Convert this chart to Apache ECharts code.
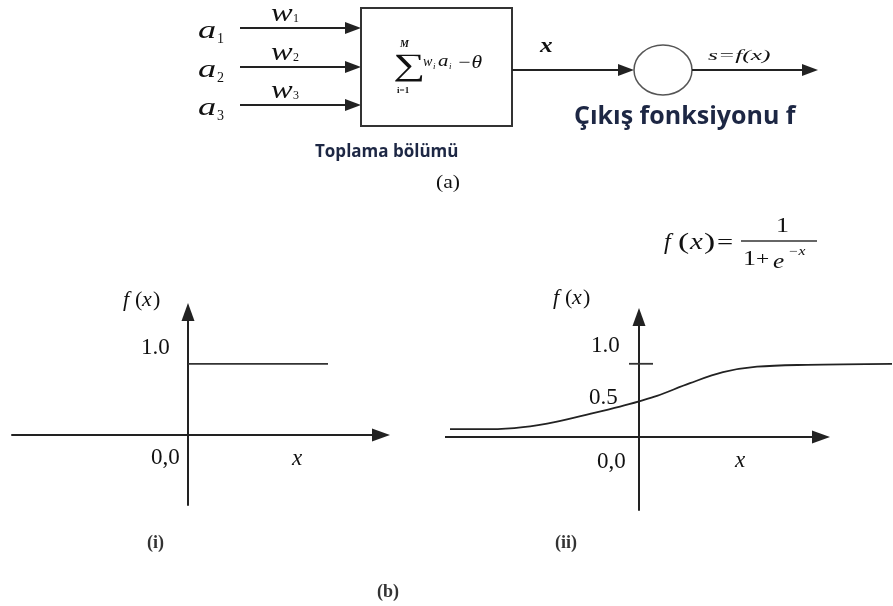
<!DOCTYPE html>
<html><head><meta charset="utf-8">
<script src="https://cdn.jsdelivr.net/npm/echarts@6/dist/echarts.min.js"></script>
<style>html,body{margin:0;padding:0;background:#fff}#c{width:893px;height:606px}</style>
</head><body><div id="c"></div>
<script>
// ---- data ----
const stepX = [0, 7.0];
const stepY = [1.0, 1.0];
const sigX = [-9.45, -7.45, -5.8, -4.1, -2.45, -0.95, 0.05, 0.9, 2.55, 4.2, 5.9, 8.4, 12.65];
const sigY = [0.105, 0.105, 0.133, 0.21, 0.315, 0.415, 0.49, 0.56, 0.735, 0.885, 0.96, 0.986, 1.0];
const tickX = [-0.5, 0.7];
const tickY = [1.0, 1.0];
const axisIIX = [-9.7, 9.1];
const axisIIY = [0, 0];
const inputSubs = ['1', '2', '3'];
const weightSubs = ['1', '2', '3'];
const yLabelsI = ['1.0'];
const yLabelsII = ['1.0', '0.5'];
const originLabel = '0,0';

const zip = (a, b) => a.map((v, i) => [v, b[i]]);
const INK = '#222';
const SERIF = '"Liberation Serif", "DejaVu Serif", serif';
const SANS = '"Open Sans", "Noto Sans", sans-serif';

function axisX(grid, min, max, showLine) {
  return {gridIndex: grid, type: 'value', min: min, max: max,
    axisLine: {show: showLine, onZero: true, symbol: ['none', 'triangle'], symbolSize: [13, 18],
      lineStyle: {color: INK, width: 2}},
    axisTick: {show: false}, axisLabel: {show: false}, splitLine: {show: false}};
}
function axisY(grid, min, max) {
  return {gridIndex: grid, type: 'value', min: min, max: max,
    axisLine: {onZero: true, symbol: ['none', 'triangle'], symbolSize: [13, 18],
      lineStyle: {color: INK, width: 2}},
    axisTick: {show: false}, axisLabel: {show: false}, splitLine: {show: false}};
}

const g = [];
function txt(x, y, s, size, opt) {
  opt = Object.assign({}, opt || {});
  const sx = opt.sx || 1; delete opt.sx;
  g.push({type: 'text', x: x, y: y, scaleX: sx, style: Object.assign({text: s, fontSize: size,
    fontFamily: SERIF, fill: '#111', textAlign: 'left', textVerticalAlign: 'middle'}, opt)});
}
function fx(x, y, size, gaps) {
  txt(x, y, 'f', size, {fontStyle: 'italic'});
  txt(x + gaps[0], y, '(', size);
  txt(x + gaps[1], y, 'x', size, {fontStyle: 'italic'});
  txt(x + gaps[2], y, ')', size);
}
function seg(x1, y1, x2, y2, w, c) {
  g.push({type: 'line', shape: {x1: x1, y1: y1, x2: x2, y2: y2},
    style: {stroke: c || INK, lineWidth: w || 2}});
}
function arrowR(x1, x2, y) {
  seg(x1, y, x2 - 6, y, 2);
  g.push({type: 'polygon', shape: {points: [[x2 - 16, y - 6], [x2, y], [x2 - 16, y + 6]]},
    style: {fill: INK}});
}

// ---- top diagram (a) ----
const rowsY = [28, 67, 105];
rowsY.forEach((y, i) => {
  arrowR(240, 361, y);
  txt(198, y + 3, 'a', 25, {fontStyle: 'italic', sx: 1.45});
  txt(217, y + 11, inputSubs[i], 14);
  txt(271, y - 14, 'w', 25, {fontStyle: 'italic', sx: 1.3});
  txt(293, y - 9, weightSubs[i], 12);
});
g.push({type: 'rect', shape: {x: 361, y: 8, width: 151, height: 118},
  style: {fill: '#fff', stroke: '#333', lineWidth: 2}});
txt(393, 67, '\u2211', 31, {sx: 1.45});
txt(400, 44, 'M', 10, {fontStyle: 'italic', fontWeight: 'bold'});
txt(397, 91, 'i=1', 9, {fontWeight: 'bold'});
txt(423, 62, 'w', 14, {fontStyle: 'italic'});
txt(433, 67, 'i', 9, {fontStyle: 'italic'});
txt(438, 62, 'a', 16, {fontStyle: 'italic', sx: 1.3});
txt(449, 67, 'i', 9, {fontStyle: 'italic'});
txt(457, 63, '\u2212\u03B8', 18, {fontStyle: 'italic', sx: 1.2});
txt(540, 47, 'x', 21, {fontStyle: 'italic', fontWeight: 'bold', sx: 1.2});
arrowR(512, 634, 70);
g.push({type: 'ellipse', shape: {cx: 663, cy: 70, rx: 29, ry: 25},
  style: {fill: '#fff', stroke: '#555', lineWidth: 1.5}});
arrowR(692, 818, 70);
txt(708, 56, 's=f(x)', 15, {fontStyle: 'italic', sx: 1.7});
txt(574, 117, 'Çıkış fonksiyonu f', 25, {fontFamily: SANS, fontWeight: 'bold', fill: '#1d2744'});
txt(315, 152, 'Toplama bölümü', 17, {fontFamily: SANS, fontWeight: 'bold', fill: '#1d2744'});
txt(436, 183, '(a)', 18, {sx: 1.2});

// formula f(x) = 1 / (1 + e^-x)
txt(664, 243, 'f', 24, {fontStyle: 'italic'});
txt(678, 243, '(', 24, {sx: 1.4});
txt(690, 243, 'x', 24, {fontStyle: 'italic', sx: 1.2});
txt(704, 243, ')', 24, {sx: 1.4});
txt(717, 243, '=', 22, {sx: 1.3});
txt(776, 227, '1', 20, {sx: 1.3});
seg(741, 241, 817, 241, 1.3, '#333');
txt(743, 260, '1', 20, {sx: 1.3});
txt(756, 260, '+', 18, {sx: 1.3});
txt(773, 262, 'e', 21, {fontStyle: 'italic', sx: 1.2});
txt(788, 252, '\u2212x', 12, {fontStyle: 'italic', sx: 1.3});

// ---- plot (i) labels ----
fx(123, 300, 22, [12, 19, 30]);
txt(141, 348, yLabelsI[0], 23);
txt(151, 458, originLabel, 23);
txt(292, 459, 'x', 23, {fontStyle: 'italic'});
txt(147, 543, '(i)', 18, {fontWeight: 'bold', fill: '#333'});

// ---- plot (ii) labels ----
fx(553, 298, 22, [12, 19, 30]);
txt(591, 346, yLabelsII[0], 23);
txt(589, 398, yLabelsII[1], 23);
txt(597, 462, originLabel, 23);
txt(735, 461, 'x', 23, {fontStyle: 'italic'});
txt(555, 543, '(ii)', 18, {fontWeight: 'bold', fill: '#333'});
txt(377, 592, '(b)', 18, {fontWeight: 'bold', fill: '#333'});

const chart = echarts.init(document.getElementById('c'), null, {renderer: 'canvas'});
chart.setOption({
  backgroundColor: '#fff',
  animation: false,
  grid: [
    {left: 12, top: 312, width: 369, height: 193},
    {left: 445, top: 317, width: 448, height: 193}
  ],
  xAxis: [axisX(0, -8.8, 9.65, true), axisX(1, -9.7, 12.7, false)],
  yAxis: [axisY(0, -0.986, 1.73), axisY(1, -1.0, 1.64)],
  series: [
    {type: 'line', xAxisIndex: 0, yAxisIndex: 0, data: zip(stepX, stepY), showSymbol: false,
      lineStyle: {color: '#333', width: 1.8}},
    {type: 'line', xAxisIndex: 1, yAxisIndex: 1, data: zip(sigX, sigY), showSymbol: false,
      smooth: 0.35, lineStyle: {color: '#222', width: 1.8}},
    {type: 'line', xAxisIndex: 1, yAxisIndex: 1, data: zip(tickX, tickY), showSymbol: false,
      lineStyle: {color: '#333', width: 1.8},
      markLine: {silent: true, symbol: ['none', 'triangle'], symbolSize: [13, 18],
        label: {show: false}, lineStyle: {color: INK, width: 2, type: 'solid'},
        data: [[{coord: [axisIIX[0], axisIIY[0]]}, {coord: [axisIIX[1], axisIIY[1]]}]]}}
  ],
  graphic: g
});
</script></body></html>
